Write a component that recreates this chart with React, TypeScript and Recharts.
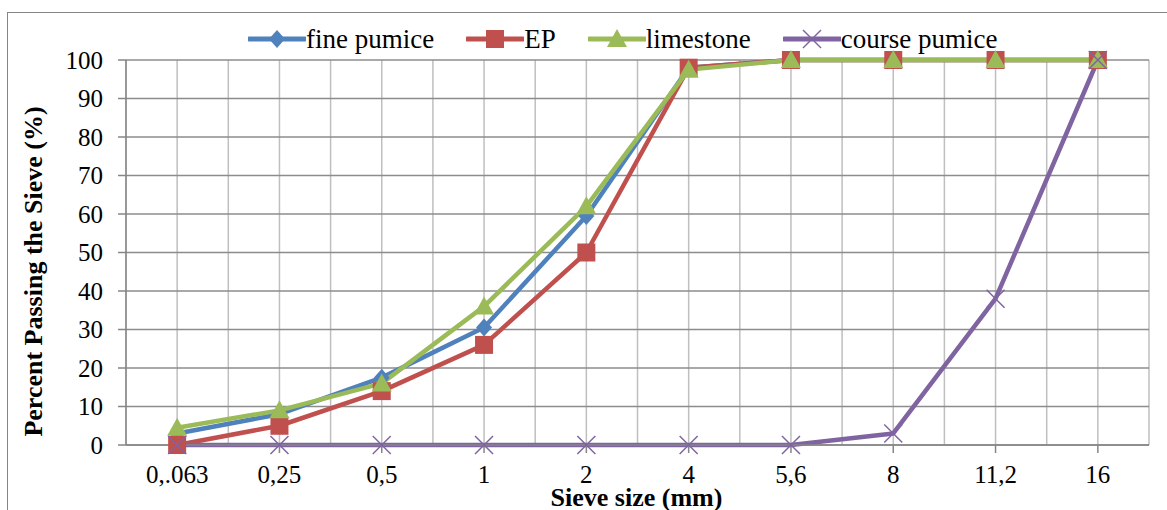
import React from 'react';
import { LineChart, Line, XAxis, YAxis, CartesianGrid } from 'recharts';

const sieveSizes = ['0,.063', '0,25', '0,5', '1', '2', '4', '5,6', '8', '11,2', '16'];
const finePumice = [3, 8, 17.5, 30.5, 59.5, 98, 100, 100, 100, 100];
const ep = [0, 5, 14, 26, 50, 98, 100, 100, 100, 100];
const limestone = [4.5, 9, 16, 36, 62, 97.5, 100, 100, 100, 100];
const coursePumice = [0, 0, 0, 0, 0, 0, 0, 3, 38, 100];
const yTicks = [0, 10, 20, 30, 40, 50, 60, 70, 80, 90, 100];

// x position = centre of each category slot (0.5, 1.5, ...)
const data = sieveSizes.map((size, i) => ({
  pos: i + 0.5,
  size,
  fine: finePumice[i],
  ep: ep[i],
  limestone: limestone[i],
  course: coursePumice[i],
}));

const series = [
  { key: 'fine', name: 'fine pumice', color: '#4F81BD', shape: 'diamond' },
  { key: 'ep', name: 'EP', color: '#C0504D', shape: 'square' },
  { key: 'limestone', name: 'limestone', color: '#9BBB59', shape: 'triangle' },
  { key: 'course', name: 'course pumice', color: '#8064A2', shape: 'x' },
];

const FONT = '"Liberation Serif", "Times New Roman", serif';
const AXIS = '#868686';

function Marker({ shape, cx, cy, color }: any) {
  if (cx == null || cy == null) return null;
  if (shape === 'diamond')
    return <polygon points={`${cx},${cy - 9} ${cx + 8},${cy} ${cx},${cy + 9} ${cx - 8},${cy}`} fill={color} />;
  if (shape === 'square') return <rect x={cx - 9} y={cy - 9} width={18} height={18} fill={color} />;
  if (shape === 'triangle')
    return <polygon points={`${cx},${cy - 10} ${cx + 10},${cy + 8} ${cx - 10},${cy + 8}`} fill={color} />;
  return (
    <g stroke={color} strokeWidth={1.5}>
      <line x1={cx - 9} y1={cy - 9} x2={cx + 9} y2={cy + 9} />
      <line x1={cx - 9} y1={cy + 9} x2={cx + 9} y2={cy - 9} />
    </g>
  );
}

const XTitle = ({ viewBox }: any) => (
  <text x={viewBox.x + viewBox.width / 2 - 1} y={viewBox.y + 61} textAnchor="middle"
    fontFamily={FONT} fontWeight="bold" fontSize={26} fill="#000">Sieve size (mm)</text>
);

const YTitle = ({ viewBox }: any) => {
  const x = viewBox.x + 42;
  const y = viewBox.y + viewBox.height / 2 + 19;
  return (
    <text x={x} y={y} transform={`rotate(-90 ${x} ${y})`} textAnchor="middle"
      fontFamily={FONT} fontWeight="bold" fontSize={26} fill="#000">Percent Passing the Sieve (%)</text>
  );
};

export default function App() {
  return (
    <div style={{ position: 'absolute', left: 0, top: 0, width: 1167, height: 510, overflow: 'hidden', background: '#fff', fontFamily: FONT }}>
      <div style={{ position: 'absolute', left: 7, top: 12, width: 1300, height: 700, border: '1px solid #868686' }} />
      <div style={{ position: 'absolute', left: 248, top: 24, height: 30, display: 'flex', alignItems: 'center' }}>
        {series.map((s) => (
          <div key={s.key} style={{ display: 'flex', alignItems: 'center', marginRight: 32 }}>
            <svg width={58} height={30}>
              <line x1={1} y1={15} x2={57} y2={15} stroke={s.color} strokeWidth={5} strokeLinecap="round" />
              <Marker shape={s.shape} cx={29} cy={15} color={s.color} />
            </svg>
            <span style={{ fontSize: 27, lineHeight: '30px', color: '#000' }}>{s.name}</span>
          </div>
        ))}
      </div>
      <div style={{ position: 'absolute', left: 0, top: 0 }}>
        <LineChart width={1167} height={510} data={data} margin={{ top: 60, right: 18, bottom: 0, left: 0 }}>
          <CartesianGrid horizontal={false} stroke="#BFBFBF" strokeWidth={1.5}
            verticalCoordinatesGenerator={({ offset }: any) =>
              Array.from({ length: 21 }, (_, i) => offset.left + (i * offset.width) / 20)
            } />
          <CartesianGrid vertical={false} stroke="#8C8C8C" strokeWidth={1.5} />
          <XAxis dataKey="pos" type="number" domain={[0, sieveSizes.length]} allowDataOverflow
            ticks={data.map((d) => d.pos)} interval={0}
            tickFormatter={(v: number) => sieveSizes[Math.floor(v)]} height={65} stroke={AXIS} strokeWidth={1.5}
            tickSize={8} tickMargin={12}
            tick={{ fill: '#000', fontSize: 25, fontFamily: FONT }}
            label={<XTitle />} />
          <YAxis domain={[0, 100]} ticks={yTicks} width={126} stroke={AXIS} strokeWidth={1.5}
            tickSize={8} tickMargin={15} interval={0}
            tick={{ fill: '#000', fontSize: 25, fontFamily: FONT }}
            label={<YTitle />} />
          {series.map((s) => (
            <Line key={s.key} dataKey={s.key} name={s.name} type="linear" stroke={s.color}
              strokeWidth={4.5} strokeLinejoin="round" isAnimationActive={false} activeDot={false}
              dot={(p: any) => <Marker key={`${s.key}-${p.index}`} shape={s.shape} cx={p.cx} cy={p.cy} color={s.color} />} />
          ))}
        </LineChart>
      </div>
    </div>
  );
}
